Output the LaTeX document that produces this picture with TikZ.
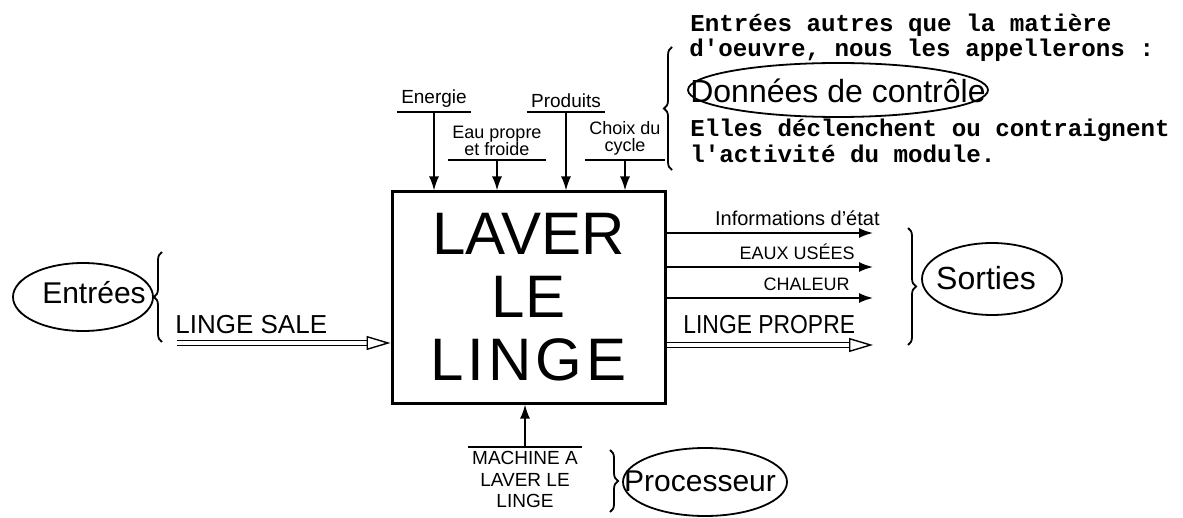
\documentclass[tikz,border=0pt]{standalone}
\usepackage{fontspec}
\setmainfont{Liberation Sans}
\setmonofont{Liberation Mono}
\newfontfamily\narrowfont{Liberation Sans}[FakeStretch=0.88]
\usepackage{tikz}
\usetikzlibrary{positioning,calc}
\usetikzlibrary{arrows.meta,decorations.pathreplacing}
\tikzset{
	module/.style={draw=black,line width=1.5pt,minimum width=136.5pt,minimum height=105.5pt,
		align=center,font=\fontsize{30}{31.5}\selectfont},
	ctl/.style={inner xsep=2pt,inner ysep=2pt,align=center,font=\fontsize{9}{8.5}\selectfont},
	lbl/.style={inner sep=0pt,font=\fontsize{9}{9}\selectfont},
	big/.style={inner sep=0pt,font=\fontsize{15}{15}\selectfont},
	flow/.style={draw=black,line width=0.9pt,-{Latex[length=7pt,width=5pt]}},
	matter/.style={draw=black,double,double distance=2pt,line width=0.7pt,
		-{Triangle[open,length=12pt,width=7pt]}},
	ring/.style={draw=black,line width=0.9pt},
	curly/.style={draw=black,line width=0.9pt,decorate,decoration={brace,amplitude=4pt}},
	note/.style={anchor=base west,inner sep=0pt,font=\ttfamily\bfseries\fontsize{12.1}{12}\selectfont},
}

\begin{document}
\begin{tikzpicture}[x=0.5pt,y=-0.5pt]
	\useasboundingbox (0,0) rectangle (1183,518);
	\node[module] (box) at (528.5,297.5) {LAVER\\LE\\{\addfontfeature{LetterSpace=7}LINGE\hspace{-2pt}}};
	% controls
	\node[ctl,font=\fontsize{9.5}{9.5}\selectfont,anchor=south] (nrg) at (434,112) {Energie};
	\node[ctl,anchor=south] (eau) at (497,160) {Eau propre\\et froide};
	\node[ctl,font=\fontsize{9.5}{9.5}\selectfont,anchor=south] (prod) at (566,112) {Produits};
	\node[ctl,anchor=south] (cyc) at (625,160) {Choix du\\cycle};
	\foreach \n in {nrg,eau,prod,cyc}{
		\draw[line width=0.9pt] (\n.south west) -- (\n.south east);
		\draw[flow] (\n.south) -- (\n.south |- box.north);
	}
	% outputs
	\foreach \n/\y in {info/233,eaux/267,chal/298}
	\coordinate (\n) at (873,\y);
	\coordinate (propre) at (873,345);
	\foreach \n in {info,eaux,chal}
	\draw[flow] (box.east |- \n) -- (\n);
	\draw[matter] (box.east |- propre) -- (propre);
	\node[lbl,anchor=base east,font=\fontsize{10}{10}\selectfont] (tinfo) at (880,226) {Informations d'état};
	\node[lbl,anchor=base east] (teaux) at (855,260) {EAUX USÉES};
	\node[lbl,anchor=base east] (tchal) at (850,291) {CHALEUR};
	\node[lbl,anchor=base west,font=\narrowfont\fontsize{13}{13}\selectfont] (tpropre) at (683,334) {LINGE PROPRE};
	\draw[curly] (908,228) -- (908,345);
	\node[big,font=\fontsize{16}{16}\selectfont] (sorties) at (986,278) {Sorties};
	\draw[ring] (992,279) ellipse [x radius=35pt,y radius=18pt];
	% inputs
	\coordinate (sale) at (177,343);
	\draw[matter] (sale) -- (sale -| box.west);
	\node[lbl,anchor=base west,font=\fontsize{13}{13}\selectfont] (tsale) at (175,333) {LINGE SALE};
	\draw[curly] (162,342) -- (162,252);
	\node[big] (entrees) at (94,293) {Entrées};
	\draw[ring] (83,297) ellipse [x radius=35pt,y radius=17pt];
	% processor
	\node[ctl,anchor=north,font=\fontsize{9.5}{10.75}\selectfont] (mach) at (525,447) {MACHINE A\\LAVER LE\\LINGE};
	\draw[line width=0.9pt] (mach.north west) -- (mach.north east);
	\draw[flow] (mach.north) -- (mach.north |- box.south);
	\draw[curly] (610,450) -- (610,512);
	\node[big] (proc) at (700,481) {Processeur};
	\draw[ring] (705,482) ellipse [x radius=41pt,y radius=17pt];
	% remark
	\node[note] (n1) at (690,32) {Entrées autres que la matière};
	\node[note] (n2) at (689,57) {d'oeuvre, nous les appellerons :};
	\node[big,font=\fontsize{16}{16}\selectfont] (donnees) at (838,91) {Données de contrôle};
	\draw[ring] (838,90) ellipse [x radius=75pt,y radius=13.5pt];
	\node[note] (n3) at (690,137) {Elles déclenchent ou contraignent};
	\node[note] (n4) at (690,163) {l'activité du module.};
	\draw[curly] (672,170) -- (672,47);
\end{tikzpicture}
\end{document}
